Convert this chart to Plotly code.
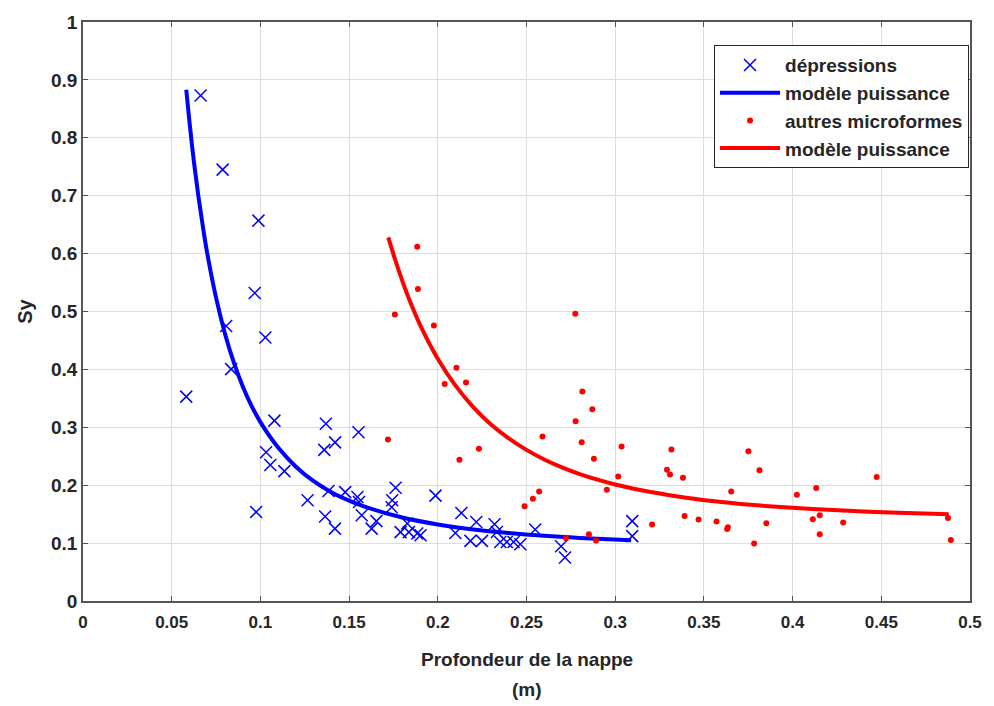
import plotly.graph_objects as go

# Blue "dépressions" points
dep_x = [0.0663, 0.0787, 0.0989, 0.0968, 0.0807, 0.1028, 0.0835, 0.0582, 0.1079, 0.1032,
         0.1056, 0.0976, 0.1369, 0.1553, 0.1421, 0.1360, 0.1135, 0.1266, 0.1384, 0.1478,
         0.1547, 0.1556, 0.1365, 0.1420, 0.1571, 0.1627, 0.1654, 0.1762, 0.1743, 0.1740,
         0.1790, 0.1828, 0.1837, 0.1884, 0.1903, 0.1987, 0.2133, 0.2099, 0.2217, 0.2184,
         0.2249, 0.2320, 0.2333, 0.2352, 0.2389, 0.2427, 0.2465, 0.2549, 0.2695, 0.2717,
         0.3096, 0.3096]
dep_y = [0.873, 0.745, 0.657, 0.532, 0.475, 0.455, 0.4005, 0.353, 0.3115, 0.257,
         0.235, 0.1537, 0.306, 0.2915, 0.274, 0.261, 0.2243, 0.174, 0.190, 0.188,
         0.1796, 0.171, 0.146, 0.125, 0.148, 0.125, 0.138, 0.1957, 0.174, 0.162,
         0.119, 0.1337, 0.119, 0.1165, 0.1136, 0.182, 0.152, 0.1176, 0.1365, 0.1038,
         0.1038, 0.1325, 0.1193, 0.102, 0.102, 0.102, 0.098, 0.1234, 0.0947, 0.075,
         0.138, 0.112]

# Blue power model curve
dep_fit_x = [0.0582, 0.060, 0.0625, 0.065, 0.0675, 0.070, 0.075, 0.080, 0.085, 0.090,
             0.095, 0.100, 0.110, 0.120, 0.130, 0.140, 0.150, 0.160, 0.180, 0.200,
             0.220, 0.240, 0.260, 0.280, 0.309]
dep_fit_y = [0.883, 0.828, 0.759, 0.700, 0.648, 0.601, 0.524, 0.462, 0.412, 0.371,
             0.337, 0.309, 0.265, 0.232, 0.207, 0.188, 0.1735, 0.1617, 0.1442, 0.1322,
             0.1236, 0.1174, 0.1126, 0.109, 0.105]

# Red "autres microformes" points
aut_x = [0.1884, 0.1888, 0.1758, 0.1978, 0.2105, 0.2159, 0.2039, 0.2775, 0.2815, 0.2871,
         0.2777, 0.2590, 0.2811, 0.3036, 0.2880, 0.1719, 0.2122, 0.2232, 0.3017, 0.2953,
         0.2489, 0.2536, 0.2571, 0.2723, 0.2852, 0.2892, 0.3208, 0.3317, 0.3292, 0.3309,
         0.3382, 0.3391, 0.3470, 0.3571, 0.3654, 0.3635, 0.3631, 0.3751, 0.3813, 0.3783,
         0.3852, 0.4024, 0.4133, 0.4114, 0.4153, 0.4153, 0.4285, 0.4474, 0.4876, 0.4892]
aut_y = [0.612, 0.539, 0.495, 0.476, 0.4028, 0.3775, 0.3747, 0.496, 0.362, 0.331,
         0.3103, 0.284, 0.274, 0.2668, 0.2456, 0.2788, 0.2439, 0.2628, 0.2151, 0.1923,
         0.1635, 0.1768, 0.1893, 0.1084, 0.1153, 0.1044, 0.132, 0.2616, 0.2267, 0.2186,
         0.2129, 0.1468, 0.1406, 0.1372, 0.1893, 0.1274, 0.1245, 0.2587, 0.226, 0.0993,
         0.1343, 0.1836, 0.195, 0.1411, 0.148, 0.1153, 0.1354, 0.214, 0.1434, 0.1055]

# Red power model curve
aut_fit_x = [0.1721, 0.176, 0.180, 0.185, 0.190, 0.200, 0.210, 0.220, 0.230, 0.240,
             0.250, 0.260, 0.270, 0.280, 0.290, 0.300, 0.320, 0.340, 0.360, 0.380,
             0.400, 0.420, 0.440, 0.460, 0.488]
aut_fit_y = [0.628, 0.589, 0.553, 0.5125, 0.477, 0.4185, 0.372, 0.335, 0.305, 0.281,
             0.261, 0.2445, 0.2308, 0.2192, 0.2095, 0.2012, 0.1881, 0.1784, 0.171, 0.1653,
             0.1609, 0.1574, 0.1547, 0.1524, 0.150]

x_ticks = [0, 0.05, 0.1, 0.15, 0.2, 0.25, 0.3, 0.35, 0.4, 0.45, 0.5]
x_labels = ["0", "0.05", "0.1", "0.15", "0.2", "0.25", "0.3", "0.35", "0.4", "0.45", "0.5"]
y_ticks = [0, 0.1, 0.2, 0.3, 0.4, 0.5, 0.6, 0.7, 0.8, 0.9, 1]
y_labels = ["0", "0.1", "0.2", "0.3", "0.4", "0.5", "0.6", "0.7", "0.8", "0.9", "1"]
x_title_lines = ["Profondeur de la nappe", "(m)"]

TXT = "#262626"
FONT = "Liberation Sans"

fig = go.Figure()
fig.add_trace(go.Scatter(x=dep_x, y=dep_y, mode="markers", name="dépressions",
                         marker=dict(symbol="x-thin", size=12, color="#0000FF",
                                     line=dict(width=1.5, color="#0000FF"))))
fig.add_trace(go.Scatter(x=dep_fit_x, y=dep_fit_y, mode="lines", name="modèle puissance",
                         line=dict(color="#0000FF", width=4, shape="spline")))
fig.add_trace(go.Scatter(x=aut_x, y=aut_y, mode="markers", name="autres microformes",
                         marker=dict(symbol="circle", size=6, color="#FF0000")))
fig.add_trace(go.Scatter(x=aut_fit_x, y=aut_fit_y, mode="lines", name="modèle puissance",
                         line=dict(color="#FF0000", width=4, shape="spline")))

axis_common = dict(showline=True, linecolor="#555555", linewidth=1.5, mirror="ticks",
                   ticks="inside", ticklen=5, tickcolor="#555555",
                   showgrid=True, gridcolor="#dedede", gridwidth=1, zeroline=False)

fig.update_layout(
    width=994, height=706,
    margin=dict(l=83, r=21, t=20, b=105),
    paper_bgcolor="white", plot_bgcolor="white",
    showlegend=True,
    legend=dict(x=0.9989, y=0.96, xanchor="right", yanchor="top",
                bgcolor="white", bordercolor=TXT, borderwidth=1,
                font=dict(family=FONT, size=19, color=TXT, weight="bold"),
                itemwidth=60, tracegroupgap=0),
    xaxis=dict(range=[0, 0.5], tickvals=x_ticks, ticktext=x_labels,
               tickfont=dict(family=FONT, size=17, color=TXT, weight="bold"),
               ticklabelstandoff=5,
               **axis_common),
    yaxis=dict(range=[0, 1], tickvals=y_ticks, ticktext=y_labels,
               tickfont=dict(family=FONT, size=19, color=TXT, weight="bold"),
               title=dict(text="Sy", standoff=13,
                          font=dict(family=FONT, size=20, color=TXT, weight="bold")),
               **axis_common),
)

for txt, yy in zip(x_title_lines, [-0.1015, -0.153]):
    fig.add_annotation(text=txt, xref="paper", yref="paper", x=0.5, y=yy,
                       xanchor="center", yanchor="middle", showarrow=False,
                       font=dict(family=FONT, size=19, color=TXT, weight="bold"))

fig.write_html("out.html")
